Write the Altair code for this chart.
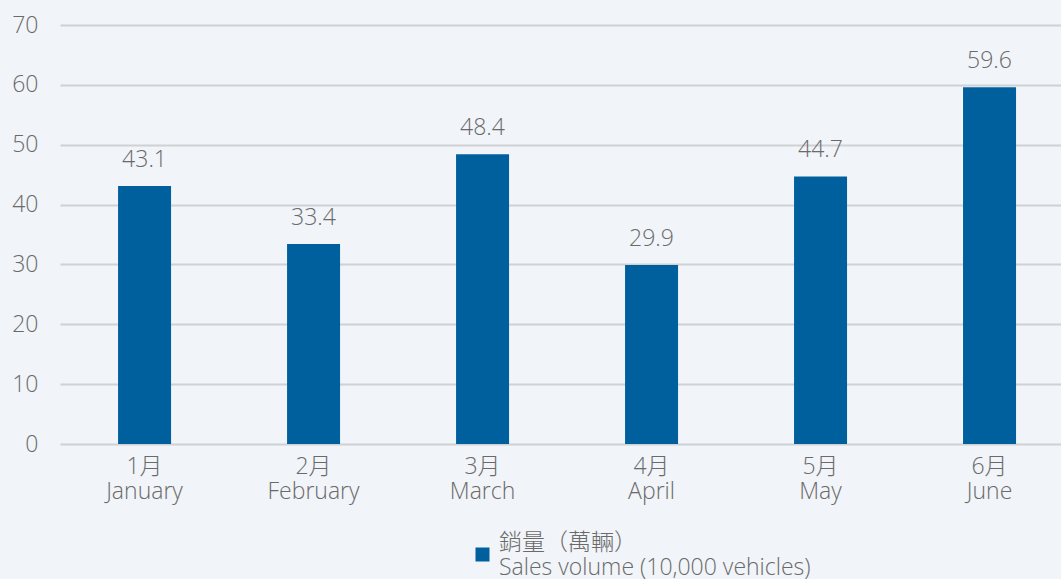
import altair as alt
import pandas as pd

months_cn = ["1月", "2月", "3月", "4月", "5月", "6月"]
months_en = ["January", "February", "March", "April", "May", "June"]
sales = [43.1, 33.4, 48.4, 29.9, 44.7, 59.6]
series_name = "銷量（萬輛）\nSales volume (10,000 vehicles)"

df = pd.DataFrame({
    "month": [f"{c}\n{e}" for c, e in zip(months_cn, months_en)],
    "sales": sales,
    "series": [series_name] * len(sales),
})

FONT = "Open Sans, Noto Sans CJK TC, sans-serif"
GREY = "#6a6a6a"
BLUE = "#00609e"
W = 300
FS = 23

order = list(df["month"])

x = alt.X(
    "month:N",
    sort=order,
    scale=alt.Scale(paddingInner=0.686, paddingOuter=0.3046, align=0.5636),
    axis=alt.Axis(
        title=None, labelAngle=0, ticks=False, domain=False, grid=False,
        labelExpr="split(datum.label, '\\n')", labelFont=FONT, labelFontSize=FS,
        labelFontWeight=W, labelColor=GREY, labelLineHeight=25, labelPadding=11,
        labelBaseline="top",
    ),
)

bars = alt.Chart(df).mark_bar(size=53).encode(
    x=x,
    y=alt.Y(
        "sales:Q",
        scale=alt.Scale(domain=[0, 70], nice=False),
        axis=alt.Axis(
            title=None, values=[0, 10, 20, 30, 40, 50, 60, 70], ticks=False, domain=False,
            grid=True, gridColor="#cfd1d4", gridWidth=2, labelFont=FONT, labelFontSize=FS,
            labelFontWeight=W, labelColor=GREY, labelPadding=22,
        ),
    ),
    color=alt.Color(
        "series:N",
        scale=alt.Scale(range=[BLUE]),
        legend=alt.Legend(
            title=None, orient="none", legendX=411, legendY=518, symbolType="square",
            symbolSize=196, symbolStrokeWidth=0, labelFont=FONT, labelFontSize=FS,
            labelFontWeight=W, labelColor=GREY, labelExpr="split(datum.label, '\\n')",
            labelLimit=600, labelOffset=5, padding=0, labelBaseline="bottom",
        ),
    ),
)

labels = alt.Chart(df).mark_text(
    baseline="alphabetic", dy=-19, font=FONT, fontSize=FS, fontWeight=W, color=GREY
).encode(x=alt.X("month:N", sort=order), y="sales:Q", text=alt.Text("sales:Q", format=".1f"))

chart = (bars + labels).properties(
    width=1001, height=419,
    autosize=alt.AutoSizeParams(type="none"),
    padding={"left": 60, "top": 25, "right": 0, "bottom": 135},
    background="#f1f4f8",
).configure_view(stroke=None)

chart.save("out.html", embed_options={"renderer": "svg", "actions": False})
